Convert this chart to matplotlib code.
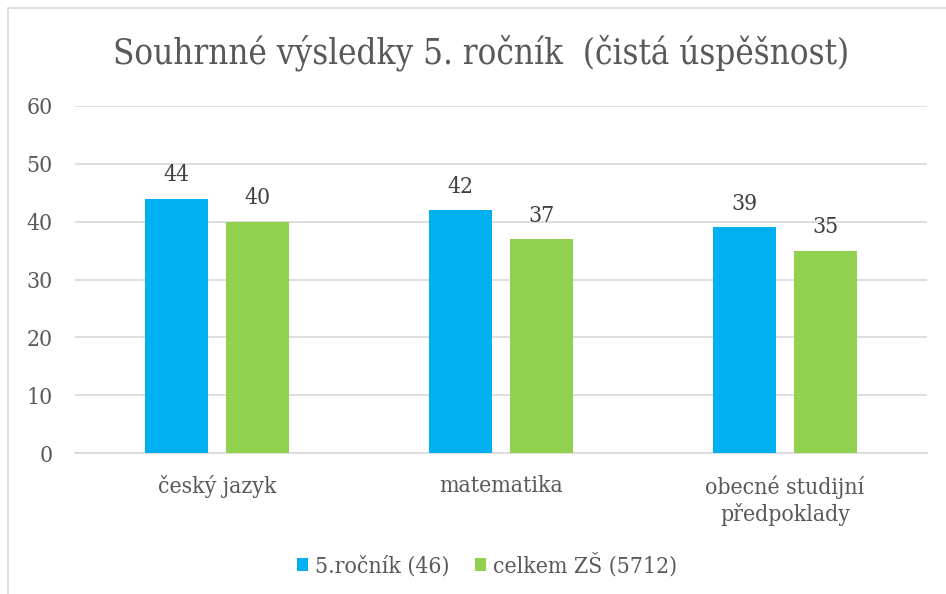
import matplotlib
matplotlib.use("Agg")
import matplotlib.pyplot as plt
from matplotlib.patches import Rectangle
import numpy as np

categories = ["český jazyk", "matematika", "obecné studijní\npředpoklady"]
series_names = ["5.ročník (46)", "celkem ZŠ (5712)"]
rocnik5 = [44, 42, 39]
celkem = [40, 37, 35]
yticks = [0, 10, 20, 30, 40, 50, 60]
title = "Souhrnné výsledky 5. ročník  (čistá úspěšnost)"

colors = ["#00B0F0", "#92D050"]
text_col = "#595959"
plt.rcParams['font.family'] = ['DejaVu Serif']
fs = 16.5

fig = plt.figure(figsize=(9.46, 5.94), dpi=100)
fig.patches.append(Rectangle((8/946, -0.01), 1.0, 1 - 8/594 + 0.01, transform=fig.transFigure,
                             fill=False, edgecolor="#D9D9D9", linewidth=1.2))

W, H = 946, 594
ax = fig.add_axes([75/W, 1 - 453/H, (927-75)/W, (453-106)/H])
x = np.arange(len(categories))
bw = 0.222
off = 0.1417
b1 = ax.bar(x - off, rocnik5, bw, color=colors[0], label=series_names[0], zorder=3)
b2 = ax.bar(x + off, celkem, bw, color=colors[1], label=series_names[1], zorder=3)
for bars in (b1, b2):
    ax.bar_label(bars, padding=9, fontsize=fs, color="#404040", stretch="condensed")

ax.set_xlim(-0.5, 2.5)
ax.set_ylim(0, 60)
ax.set_yticks(yticks)
ax.set_xticks(x)
ax.set_xticklabels(categories, fontsize=fs, color=text_col, linespacing=1.25, stretch="condensed")
for lab in ax.get_yticklabels():
    lab.set_fontstretch("condensed")
ax.tick_params(axis='y', labelsize=fs, labelcolor=text_col, length=0, pad=16)
ax.tick_params(axis='x', length=0, pad=16)
ax.grid(axis='y', color="#D9D9D9", linewidth=1.2, zorder=0)
for s in ["top", "right", "left"]:
    ax.spines[s].set_visible(False)
ax.spines["bottom"].set_color("#D9D9D9")
ax.spines["bottom"].set_linewidth(1.2)

fig.text(481/W, 1 - 53/H, title, ha="center", va="center", fontsize=25, color=text_col,
         family="DejaVu Serif", stretch="condensed")

fig.legend(handles=[b1, b2], labels=series_names, loc="center", bbox_to_anchor=(487/W, 1 - 565/H),
           ncol=2, frameon=False, prop={"size": fs, "stretch": "condensed"}, labelcolor=text_col,
           handlelength=0.5, handleheight=0.5, handletextpad=0.3, columnspacing=1.1)

fig.savefig("out.png", dpi=100)
